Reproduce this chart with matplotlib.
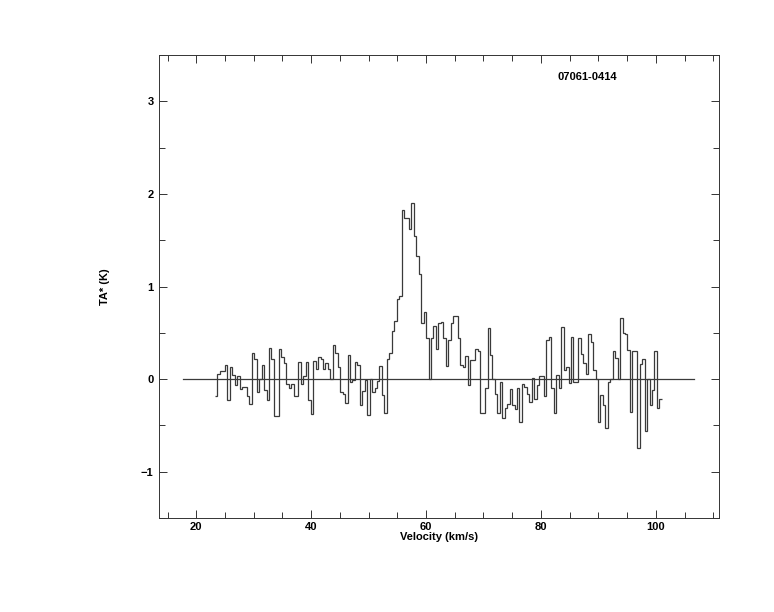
import matplotlib
matplotlib.use("Agg")
import matplotlib.pyplot as plt
import numpy as np
from matplotlib.ticker import MultipleLocator

source_name = "07061-0414"
v_start = 23.25
v_end = 101.05
baseline_range = [17.7, 106.6]

ta_values = [
    -0.18, 0.06, 0.09, 0.09, 0.15, -0.23, 0.13, 0.04, -0.06, 0.03,
    -0.11, -0.09, -0.09, -0.18, -0.27, 0.28, 0.22, -0.14, 0.00, 0.15,
    -0.12, -0.23, 0.34, 0.22, -0.40, -0.40, 0.32, 0.24, 0.17, -0.05,
    -0.10, -0.05, -0.18, -0.18, 0.19, -0.05, 0.03, 0.19, -0.23, -0.38,
    0.20, 0.11, 0.24, 0.22, 0.11, 0.17, 0.11, 0.00, 0.37, 0.28,
    0.13, -0.14, -0.16, -0.26, 0.26, -0.03, -0.01, 0.19, 0.15, -0.28,
    -0.13, -0.01, -0.39,
    0.00, -0.14, -0.10, -0.02, 0.14, -0.17, -0.37, 0.22, 0.28, 0.52,
    0.63, 0.86, 0.90, 1.83, 1.74, 1.74, 1.62, 1.90, 1.55, 1.33,
    1.14, 0.61, 0.72, 0.44, 0.00, 0.44, 0.57, 0.32, 0.61, 0.62,
    0.44, 0.14, 0.42, 0.61, 0.68, 0.68, 0.44, 0.15, 0.13, 0.25,
    -0.06, 0.21, 0.21, 0.33, 0.30, -0.37, -0.37, -0.10, 0.55, 0.26,
    0.00, -0.16, -0.37, -0.03, -0.42, -0.31, -0.27, -0.11, -0.28,
    -0.32, -0.10, -0.46, -0.05, -0.09, -0.16, -0.25, 0.01, -0.21, -0.06,
    0.03, 0.03, -0.18, 0.42, 0.46, -0.10, -0.37, 0.04, -0.10, 0.56,
    0.10, 0.13, -0.04, 0.46, -0.03, -0.03, 0.44, 0.27, 0.17, 0.06,
    0.49, 0.40, 0.10, 0.00, -0.46, -0.17, -0.28, -0.53, -0.03, 0.00,
    0.30, 0.23, 0.00, 0.66, 0.50, 0.49, 0.31, -0.35, 0.30, 0.30,
    -0.74, 0.16, 0.22, -0.56, 0.00, -0.28, -0.12, 0.30, -0.31,
    -0.21,
]

plt.rcParams['font.family'] = ['Liberation Sans', 'DejaVu Sans']

fig = plt.figure(figsize=(7.74, 6.12), dpi=100)
ax = fig.add_axes([0.2054, 0.1536, 0.7235, 0.7565])

vals = np.array(ta_values)
edges = np.linspace(v_start, v_end, len(vals) + 1)
ax.stairs(vals, edges, baseline=None, color='#3a3a3a', linewidth=0.9)
ax.plot(baseline_range, [0, 0], color='#3a3a3a', linewidth=0.9)

ax.set_xlim(13.5, 111.0)
ax.set_ylim(-1.5, 3.5)
ax.xaxis.set_major_locator(MultipleLocator(20))
ax.xaxis.set_minor_locator(MultipleLocator(5))
ax.yaxis.set_major_locator(MultipleLocator(1))
ax.yaxis.set_minor_locator(MultipleLocator(0.5))
ax.tick_params(which='both', direction='in', top=True, right=True, width=0.7, colors='#333333',
               labelcolor='black', labelsize=8)
ax.tick_params(which='major', length=6)
ax.tick_params(which='minor', length=4)
for lab in ax.get_xticklabels() + ax.get_yticklabels():
    lab.set_fontweight('bold')
ax.tick_params(axis='x', pad=3)
ax.tick_params(axis='y', pad=4)
for s in ax.spines.values():
    s.set_linewidth(0.7)
    s.set_color('#333333')

ax.set_xlabel('Velocity (km/s)', fontsize=8, fontweight='bold', labelpad=0)
ax.set_ylabel('TA* (K)', fontsize=8, fontweight='bold', labelpad=22)
ax.text(0.712, 0.945, source_name, transform=ax.transAxes, fontsize=8, fontweight='bold')

fig.savefig('out.png', dpi=100)
